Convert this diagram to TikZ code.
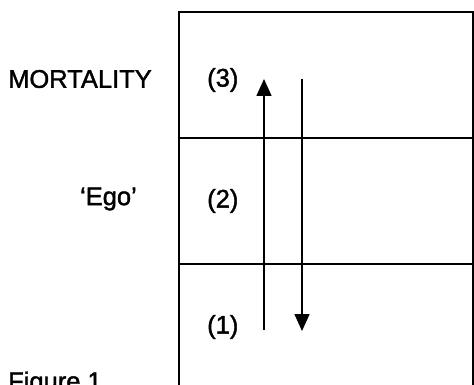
\documentclass[tikz,border=0pt]{standalone}
\usepackage{fontspec}
\setmainfont{Liberation Sans}[FakeBold=1.5]
\usetikzlibrary{arrows.meta}
\begin{document}
\begin{tikzpicture}[x=1pt,y=-1pt,
  boxline/.style={line width=2pt},
  flow/.style={line width=1.6pt,-{Triangle[length=17pt,width=15pt]}},
  lbl/.style={inner sep=0pt,font=\fontsize{25.5}{30}\selectfont}]
\useasboundingbox (0,0) rectangle (474,385);
\clip (0,0) rectangle (474,385);
\draw[boxline] (179,400) -- (179,12) -- (473,12) -- (473,400);
\draw[boxline] (179,138) -- (473,138);
\draw[boxline] (179,264) -- (473,264);
\coordinate (u0) at (264,330);
\coordinate (u1) at (264,79);
\coordinate (d0) at (302,79);
\coordinate (d1) at (302,331);
\draw[flow] (u0) -- (u1);
\draw[flow] (d0) -- (d1);
\node[lbl,anchor=west] (mort) at (8,79) {MORTALITY};
\node[lbl,anchor=east] (ego) at (137,199) {‘Ego’};
\node[lbl,anchor=west] (n3) at (207,80) {(3)};
\node[lbl,anchor=west] (n2) at (207,201) {(2)};
\node[lbl,anchor=west] (n1) at (207,327) {(1)};
\node[lbl,anchor=base west] (fig) at (8,390) {Figure 1};
\end{tikzpicture}
\end{document}
